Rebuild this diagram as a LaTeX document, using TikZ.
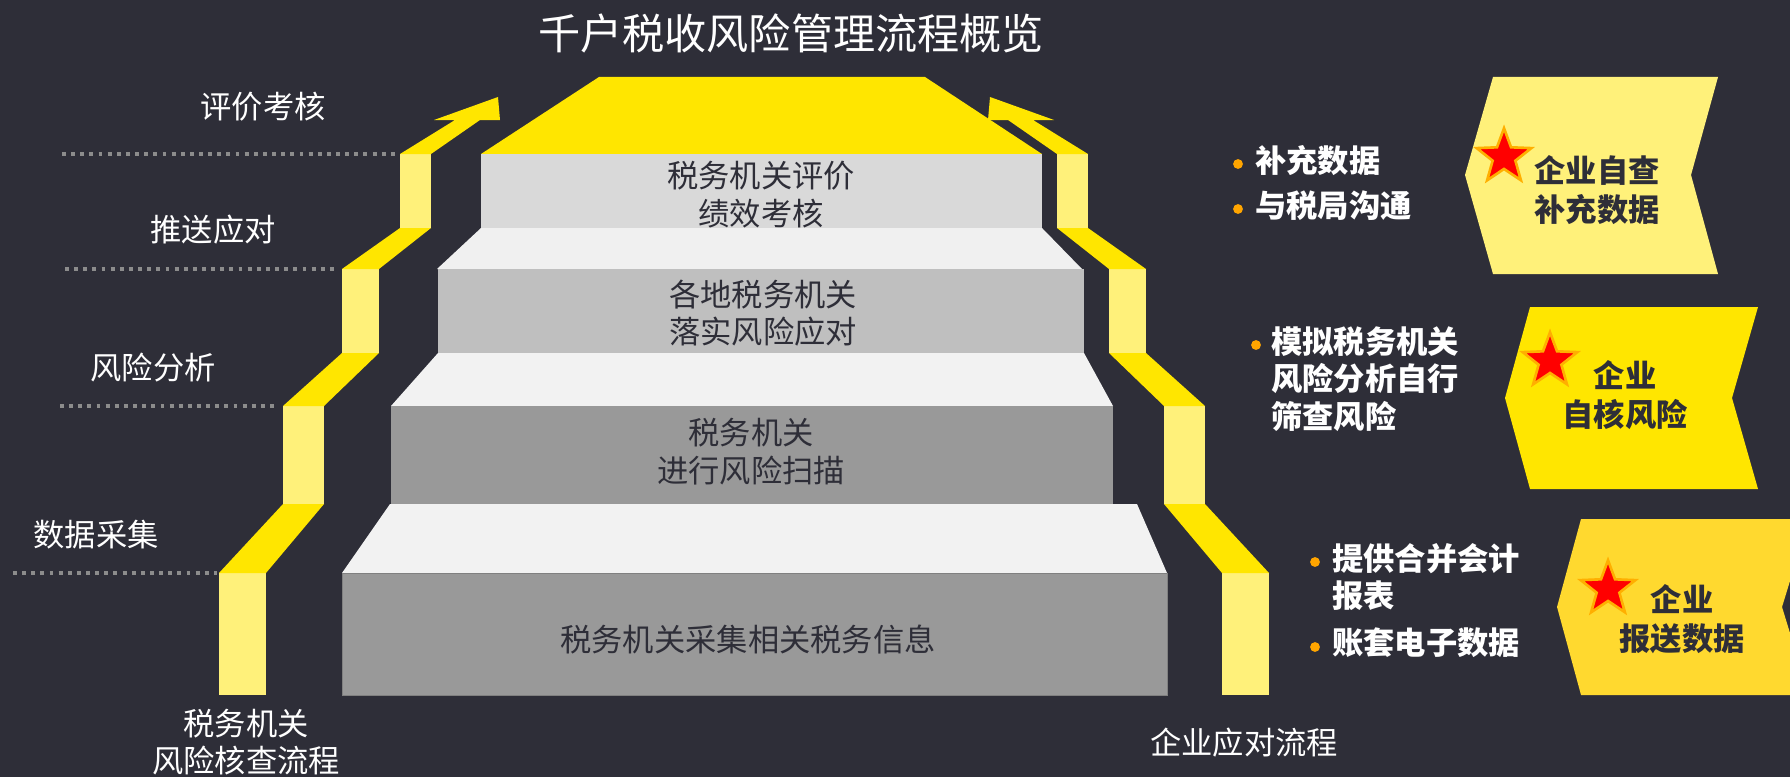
\documentclass[tikz,border=0pt]{standalone}
\usepackage{fontspec}
\setmainfont{Noto Sans CJK SC}
\usetikzlibrary{shapes.geometric}
\definecolor{bg}{RGB}{46,46,56}
\definecolor{lightyel}{RGB}{255,241,122}
\definecolor{yel}{RGB}{255,230,0}
\definecolor{gold}{RGB}{255,217,47}
\definecolor{dotgray}{RGB}{140,140,140}
\definecolor{dotorange}{RGB}{255,165,0}
\definecolor{ink}{RGB}{46,46,56}

\newcommand{\zigzag}{%
		\fill[lightyel] (219,573) rectangle (266,695);
		\fill[lightyel] (283,406) rectangle (324,504);
		\fill[lightyel] (342,269) rectangle (379,353);
		\fill[lightyel] (400,154) rectangle (431,228);
		\fill[yel] (219,573)--(283,504)--(324,504)--(266,573)--cycle;
		\fill[yel] (283,406)--(342,353)--(379,353)--(324,406)--cycle;
		\fill[yel] (342,269)--(400,228)--(431,228)--(379,269)--cycle;
		\fill[yel] (400,154)--(455,120)--(434,120)--(498,97)--(500,120)--(480,120)--(431,154)--cycle;
}

\begin{document}
\begin{tikzpicture}[x=0.02cm,y=-0.02cm,
		dots/.style={dotgray,line width=2.2pt,dash pattern=on 2.2pt off 3pt},
		lbl/.style={text=white,inner sep=0,align=center,font=\fontsize{17.8}{21}\selectfont},
		steptxt/.style={text=ink,inner sep=0,align=center,font=\fontsize{17.8}{21.5}\selectfont},
		btxt/.style={text=white,inner sep=0,anchor=west,align=left,font=\fontsize{17.8}{21.5}\selectfont\bfseries},
		ctxt/.style={text=ink,inner sep=0,align=center,font=\fontsize{17.8}{22}\selectfont\bfseries},
		redstar/.style={star,star points=5,star point ratio=2.4,minimum size=1.15cm,inner sep=0,fill=red,draw={rgb,255:red,255;green,175;blue,0},line width=1.5pt}]
		\useasboundingbox (0,0) rectangle (1790,777);
		\clip (0,0) rectangle (1790,777);
		\fill[bg] (0,0) rectangle (1790,777);
		\node[text=white,inner sep=0,font=\fontsize{24}{28}\selectfont] (title) at (791,33) {千户税收风险管理流程概览};
		\foreach \y/\xa/\xb in {154/62/397,269/65/338,406/60/279,573/13/217}
		\draw[dots] (\xa,\y)--(\xb,\y);
		\zigzag
		\begin{scope}[shift={(1488,0)},xscale=-1]
		\zigzag
		\end{scope}
		\fill[yel] (599,77)--(925,77)--(1042,154)--(481,154)--cycle;
		\fill[black!15] (481,154) rectangle (1042,228);
		\fill[black!6] (481,228)--(1042,228)--(1082,269)--(437,269)--cycle;
		\fill[black!25] (438,269) rectangle (1084,353);
		\fill[black!5] (438,353)--(1084,353)--(1113,406)--(391,406)--cycle;
		\fill[black!40] (391,406) rectangle (1113,504);
		\fill[black!5] (390,504)--(1137,504)--(1167,573)--(342,573)--cycle;
		\filldraw[fill=black!40,draw=black!50] (342,573) rectangle (1167,695);
		\node[steptxt] (s1) at (761,195) {税务机关评价\\绩效考核};
		\node[steptxt] (s2) at (763,313) {各地税务机关\\落实风险应对};
		\node[steptxt] (s3) at (751,452) {税务机关\\进行风险扫描};
		\node[steptxt] (s4) at (748,639) {税务机关采集相关税务信息};
		\node[lbl] (l1) at (263,107) {评价考核};
		\node[lbl] (l2) at (213,230) {推送应对};
		\node[lbl] (l3) at (153,368) {风险分析};
		\node[lbl] (l4) at (96,535) {数据采集};
		\node[lbl] (tax) at (246,742) {税务机关\\风险核查流程};
		\node[lbl] (firm) at (1244,743) {企业应对流程};
		\fill[lightyel] (1493,77)--(1718,77)--(1691,175)--(1718,274)--(1493,274)--(1465,175)--cycle;
		\fill[yel] (1530,307)--(1758,307)--(1732,398)--(1758,489)--(1530,489)--(1505,398)--cycle;
		\fill[gold] (1581,519)--(1809,519)--(1782,607)--(1809,695)--(1581,695)--(1557,607)--cycle;
		\node[redstar] (st1) at (1504,157) {};
		\node[redstar] (st2) at (1550,361) {};
		\node[redstar] (st3) at (1608,589) {};
		\node[ctxt] (c1) at (1597,190) {企业自查\\补充数据};
		\node[ctxt] (c2) at (1625,395) {企业\\自核风险};
		\node[ctxt] (c3) at (1682,619) {企业\\报送数据};
		\foreach \x/\y in {1238/164,1238/209,1256/345,1315/562,1315/647}
		\fill[dotorange] (\x,\y) circle[radius=2.8pt];
		\node[btxt] (b1) at (1255,161) {补充数据};
		\node[btxt] (b2) at (1255,206) {与税局沟通};
		\node[btxt] (b3) at (1271,379) {模拟税务机关\\风险分析自行\\筛查风险};
		\node[btxt] (b4) at (1332,577) {提供合并会计\\报表};
		\node[btxt] (b5) at (1332,643) {账套电子数据};
		\end{tikzpicture}
\end{document}
